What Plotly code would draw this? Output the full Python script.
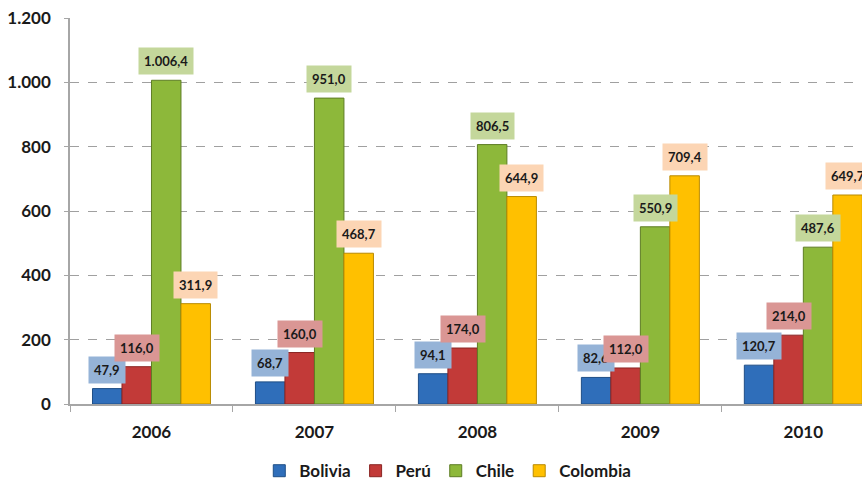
import plotly.graph_objects as go

years = ["2006", "2007", "2008", "2009", "2010"]
series_names = ["Bolivia", "Perú", "Chile", "Colombia"]
bolivia = [47.9, 68.7, 94.1, 82.6, 120.7]
peru = [116.0, 160.0, 174.0, 112.0, 214.0]
chile = [1006.4, 951.0, 806.5, 550.9, 487.6]
colombia = [311.9, 468.7, 644.9, 709.4, 649.7]
y_tickvals = [0, 200, 400, 600, 800, 1000, 1200]
y_ticktext = ["0", "200", "400", "600", "800", "1.000", "1.200"]

series = [bolivia, peru, chile, colombia]
bar_colors = ["#2F6EBA", "#C23A38", "#8DB83A", "#FFC000"]
line_colors = ["#1F4E86", "#8A2523", "#5E7D24", "#B98A00"]
label_bg = ["#95B3D7", "#DA9694", "#C4D79B", "#FCD5B4"]
FONT = "Lato"

def fmt(v):
    s = f"{v:,.1f}"
    return s.replace(",", "X").replace(".", ",").replace("X", ".")

bargap = 0.276
fig = go.Figure()
for name, vals, c, lc in zip(series_names, series, bar_colors, line_colors):
    fig.add_trace(go.Bar(
        x=years, y=vals, name=name,
        marker=dict(color=c, line=dict(color=lc, width=1)),
        hoverinfo="x+y+name",
    ))

n = len(series)
bw = (1 - bargap) / n
annotations = []
for j, (vals, bg) in enumerate(zip(series, label_bg)):
    for i, v in enumerate(vals):
        annotations.append(dict(
            x=i + (j - (n - 1) / 2) * bw, y=v, xref="x", yref="y",
            text=f"<b>{fmt(v)}</b>", showarrow=False,
            yanchor="bottom", yshift=5,
            font=dict(family=FONT, size=13, color="#1a1a1a"),
            bgcolor=bg, borderpad=5,
        ))

fig.update_layout(
    width=862, height=483,
    margin=dict(l=70, r=0, t=18, b=79, autoexpand=False),
    paper_bgcolor="white", plot_bgcolor="white",
    barmode="group", bargap=bargap, bargroupgap=0,
    annotations=annotations,
    legend=dict(orientation="h", x=0.477, xanchor="center", y=-0.174, yanchor="middle",
                font=dict(family=FONT, size=17, color="#1a1a1a", weight="bold"),
                itemwidth=30, traceorder="normal"),
    xaxis=dict(
        type="category", range=[-0.5, 4.36], automargin=False,
        tickson="boundaries", ticks="outside", ticklen=6, tickcolor="#A6A6A6",
        ticklabelstandoff=12,
        showline=True, linecolor="#A6A6A6", linewidth=1.5,
        tickfont=dict(family=FONT, size=17, color="#1a1a1a", weight="bold"),
        showgrid=False,
    ),
    yaxis=dict(
        range=[0, 1200], tickvals=y_tickvals, ticktext=y_ticktext, automargin=False,
        showline=True, linecolor="#A6A6A6", linewidth=1.5,
        showgrid=True, gridcolor="#A0A0A0", griddash="dash", gridwidth=1,
        ticks="outside", ticklen=4, tickcolor="#A6A6A6", ticklabelstandoff=10,
        tickfont=dict(family=FONT, size=17, color="#1a1a1a", weight="bold"),
        zeroline=False,
    ),
)
fig.write_html("out.html", config={"displayModeBar": False},
               post_script="document.body.style.margin='0';document.body.style.overflow='hidden';")
